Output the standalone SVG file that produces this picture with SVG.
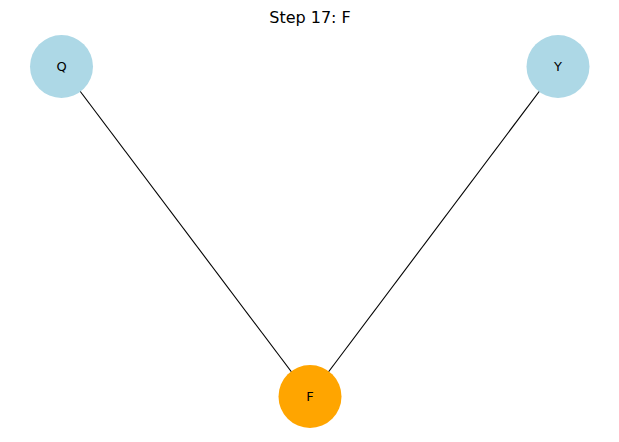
<svg xmlns="http://www.w3.org/2000/svg" width="619" height="442" viewBox="0 0 619 442">
<style>
.edge{stroke:#000;stroke-width:1.1;fill:none}
.lbl{font-family:"DejaVu Sans",sans-serif;font-size:13px;fill:#000;text-anchor:middle;dominant-baseline:central}
.title{font-family:"DejaVu Sans",sans-serif;font-size:16px;fill:#000;text-anchor:middle}
</style>
<rect width="619" height="442" fill="#fff"/>
<text class="title" x="310" y="23">Step 17: F</text>
<g id="edges">
<line class="edge" x1="61.5" y1="66.5" x2="310" y2="396.5"/>
<line class="edge" x1="558" y1="66.5" x2="310" y2="396.5"/>
</g>
<g id="node-Q"><circle cx="61.5" cy="66.5" r="31.5" fill="#add8e6"/><text class="lbl" x="61.5" y="66.5">Q</text></g>
<g id="node-Y"><circle cx="558" cy="66.5" r="31.5" fill="#add8e6"/><text class="lbl" x="558" y="66.5">Y</text></g>
<g id="node-F"><circle cx="310" cy="396.5" r="31.5" fill="#ffa500"/><text class="lbl" x="310" y="396.5">F</text></g>
</svg>
